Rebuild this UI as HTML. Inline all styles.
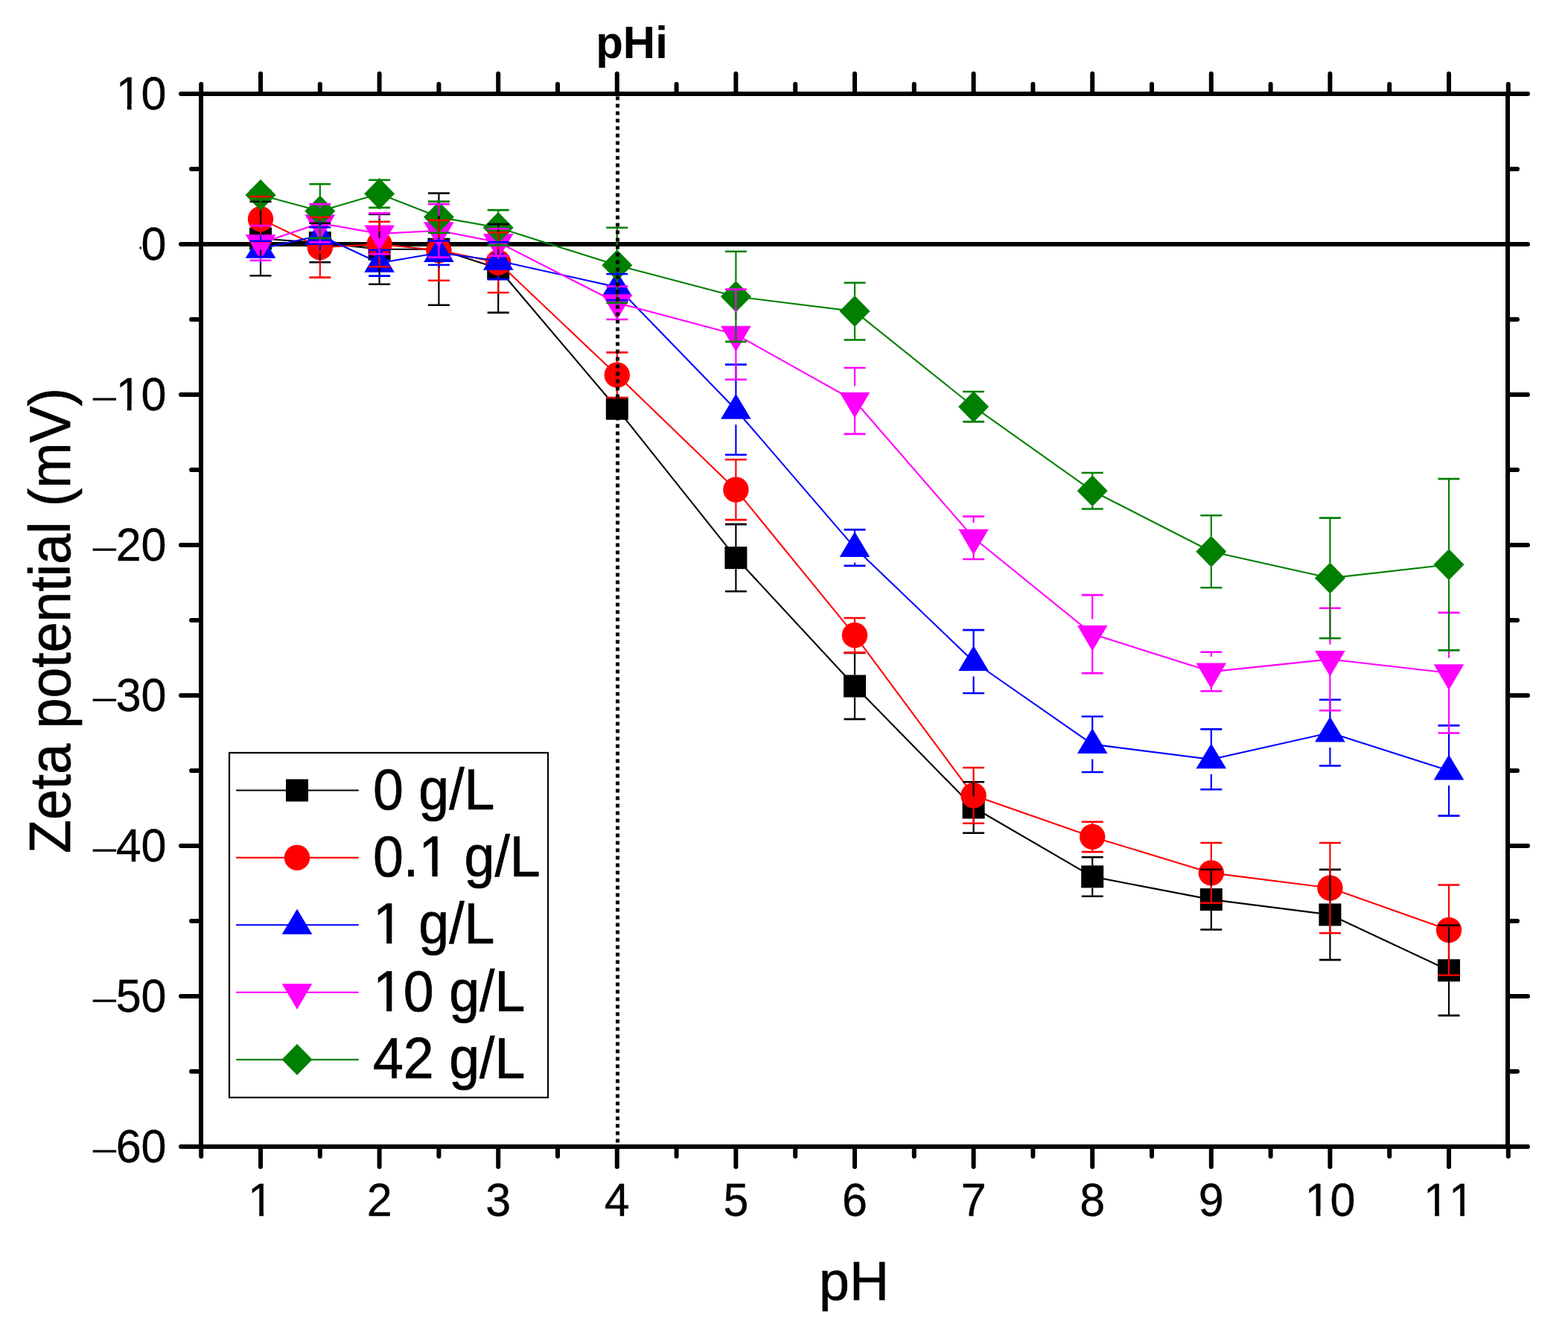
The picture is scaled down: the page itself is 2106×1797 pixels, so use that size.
<!DOCTYPE html>
<html><head><meta charset="utf-8"><title>Zeta potential vs pH</title>
<style>html,body{margin:0;padding:0;background:#fff;}svg{display:block;}</style>
</head><body>
<svg width="2106" height="1797" viewBox="0 0 2106 1797">
<rect width="2106" height="1797" fill="#ffffff"/>
<line x1="270" y1="328" x2="2025" y2="328" stroke="#000" stroke-width="6"/>
<polyline points="350,320.5 429.8,326 509.6,334.7 589.4,334.7 669.2,360.5 828.8,548.8 988.4,749.2 1148,921.5 1307.6,1084.5 1467.2,1177.4 1626.8,1208.1 1786.4,1228.5 1946,1303.3" fill="none" stroke="#000000" stroke-width="2.1" stroke-linejoin="round"/>
<rect x="335" y="305.5" width="30" height="30" fill="#000000"/>
<rect x="414.8" y="311" width="30" height="30" fill="#000000"/>
<rect x="494.6" y="319.7" width="30" height="30" fill="#000000"/>
<rect x="574.4" y="319.7" width="30" height="30" fill="#000000"/>
<rect x="654.2" y="345.5" width="30" height="30" fill="#000000"/>
<rect x="813.8" y="533.8" width="30" height="30" fill="#000000"/>
<rect x="973.4" y="734.2" width="30" height="30" fill="#000000"/>
<rect x="1133" y="906.5" width="30" height="30" fill="#000000"/>
<rect x="1292.6" y="1069.5" width="30" height="30" fill="#000000"/>
<rect x="1452.2" y="1162.4" width="30" height="30" fill="#000000"/>
<rect x="1611.8" y="1193.1" width="30" height="30" fill="#000000"/>
<rect x="1771.4" y="1213.5" width="30" height="30" fill="#000000"/>
<rect x="1931" y="1288.3" width="30" height="30" fill="#000000"/>
<polyline points="350,294.1 429.8,332.2 509.6,328 589.4,336.3 669.2,352.6 828.8,503.7 988.4,657.7 1148,853.2 1307.6,1068.3 1467.2,1123.9 1626.8,1172.4 1786.4,1192.6 1946,1249.1" fill="none" stroke="#ff0000" stroke-width="2.1" stroke-linejoin="round"/>
<circle cx="350" cy="294.1" r="17.2" fill="#ff0000"/>
<circle cx="429.8" cy="332.2" r="17.2" fill="#ff0000"/>
<circle cx="509.6" cy="328" r="17.2" fill="#ff0000"/>
<circle cx="589.4" cy="336.3" r="17.2" fill="#ff0000"/>
<circle cx="669.2" cy="352.6" r="17.2" fill="#ff0000"/>
<circle cx="828.8" cy="503.7" r="17.2" fill="#ff0000"/>
<circle cx="988.4" cy="657.7" r="17.2" fill="#ff0000"/>
<circle cx="1148" cy="853.2" r="17.2" fill="#ff0000"/>
<circle cx="1307.6" cy="1068.3" r="17.2" fill="#ff0000"/>
<circle cx="1467.2" cy="1123.9" r="17.2" fill="#ff0000"/>
<circle cx="1626.8" cy="1172.4" r="17.2" fill="#ff0000"/>
<circle cx="1786.4" cy="1192.6" r="17.2" fill="#ff0000"/>
<circle cx="1946" cy="1249.1" r="17.2" fill="#ff0000"/>
<polyline points="350,334.3 429.8,316.3 509.6,353.2 589.4,339.5 669.2,350.2 828.8,385.6 988.4,550.2 1148,735.6 1307.6,888.5 1467.2,999.6 1626.8,1019.9 1786.4,984.1 1946,1035" fill="none" stroke="#0000ff" stroke-width="2.1" stroke-linejoin="round"/>
<path d="M350 312.8L370.3 346.8L329.7 346.8Z" fill="#0000ff"/>
<path d="M429.8 294.8L450.1 328.8L409.5 328.8Z" fill="#0000ff"/>
<path d="M509.6 331.8L529.9 365.8L489.3 365.8Z" fill="#0000ff"/>
<path d="M589.4 318L609.7 352L569.1 352Z" fill="#0000ff"/>
<path d="M669.2 328.7L689.5 362.7L648.9 362.7Z" fill="#0000ff"/>
<path d="M828.8 364.1L849.1 398.1L808.5 398.1Z" fill="#0000ff"/>
<path d="M988.4 528.7L1008.7 562.7L968.1 562.7Z" fill="#0000ff"/>
<path d="M1148 714.1L1168.3 748.1L1127.7 748.1Z" fill="#0000ff"/>
<path d="M1307.6 867L1327.9 901L1287.3 901Z" fill="#0000ff"/>
<path d="M1467.2 978.1L1487.5 1012.1L1446.9 1012.1Z" fill="#0000ff"/>
<path d="M1626.8 998.4L1647.1 1032.3L1606.5 1032.3Z" fill="#0000ff"/>
<path d="M1786.4 962.6L1806.7 996.6L1766.1 996.6Z" fill="#0000ff"/>
<path d="M1946 1013.5L1966.3 1047.5L1925.7 1047.5Z" fill="#0000ff"/>
<polyline points="350,326.4 429.8,299.7 509.6,313.9 589.4,309.8 669.2,325.4 828.8,406.8 988.4,449.2 1148,538.5 1307.6,722.3 1467.2,851.6 1626.8,902.1 1786.4,885.5 1946,903.7" fill="none" stroke="#ff00ff" stroke-width="2.1" stroke-linejoin="round"/>
<path d="M350 349.4L370.3 314.9L329.7 314.9Z" fill="#ff00ff"/>
<path d="M429.8 322.7L450.1 288.2L409.5 288.2Z" fill="#ff00ff"/>
<path d="M509.6 336.9L529.9 302.4L489.3 302.4Z" fill="#ff00ff"/>
<path d="M589.4 332.8L609.7 298.3L569.1 298.3Z" fill="#ff00ff"/>
<path d="M669.2 348.4L689.5 313.9L648.9 313.9Z" fill="#ff00ff"/>
<path d="M828.8 429.8L849.1 395.3L808.5 395.3Z" fill="#ff00ff"/>
<path d="M988.4 472.2L1008.7 437.7L968.1 437.7Z" fill="#ff00ff"/>
<path d="M1148 561.5L1168.3 527L1127.7 527Z" fill="#ff00ff"/>
<path d="M1307.6 745.3L1327.9 710.8L1287.3 710.8Z" fill="#ff00ff"/>
<path d="M1467.2 874.6L1487.5 840.1L1446.9 840.1Z" fill="#ff00ff"/>
<path d="M1626.8 925.1L1647.1 890.6L1606.5 890.6Z" fill="#ff00ff"/>
<path d="M1786.4 908.5L1806.7 874L1766.1 874Z" fill="#ff00ff"/>
<path d="M1946 926.7L1966.3 892.2L1925.7 892.2Z" fill="#ff00ff"/>
<polyline points="350,261.9 429.8,283.6 509.6,260.3 589.4,291.6 669.2,305.8 828.8,356.3 988.4,398.3 1148,418.1 1307.6,546.2 1467.2,659.3 1626.8,740.7 1786.4,776.4 1946,758.3" fill="none" stroke="#008000" stroke-width="2.1" stroke-linejoin="round"/>
<path d="M350 240.9L370.5 261.9L350 282.9L329.5 261.9Z" fill="#008000"/>
<path d="M429.8 262.6L450.3 283.6L429.8 304.6L409.3 283.6Z" fill="#008000"/>
<path d="M509.6 239.3L530.1 260.3L509.6 281.3L489.1 260.3Z" fill="#008000"/>
<path d="M589.4 270.6L609.9 291.6L589.4 312.6L568.9 291.6Z" fill="#008000"/>
<path d="M669.2 284.8L689.7 305.8L669.2 326.8L648.7 305.8Z" fill="#008000"/>
<path d="M828.8 335.3L849.3 356.3L828.8 377.3L808.3 356.3Z" fill="#008000"/>
<path d="M988.4 377.3L1008.9 398.3L988.4 419.3L967.9 398.3Z" fill="#008000"/>
<path d="M1148 397.1L1168.5 418.1L1148 439.1L1127.5 418.1Z" fill="#008000"/>
<path d="M1307.6 525.2L1328.1 546.2L1307.6 567.2L1287.1 546.2Z" fill="#008000"/>
<path d="M1467.2 638.3L1487.7 659.3L1467.2 680.3L1446.7 659.3Z" fill="#008000"/>
<path d="M1626.8 719.7L1647.3 740.7L1626.8 761.7L1606.3 740.7Z" fill="#008000"/>
<path d="M1786.4 755.4L1806.9 776.4L1786.4 797.4L1765.9 776.4Z" fill="#008000"/>
<path d="M1946 737.3L1966.5 758.3L1946 779.3L1925.5 758.3Z" fill="#008000"/>
<path d="M350 305.5V270.8M350 335.5V370.2M429.8 311V299.7M429.8 341V352.2M509.6 319.7V287.6M509.6 349.7V381.7M589.4 319.7V259.5M589.4 349.7V409.8M669.2 345.5V301.1M669.2 375.5V419.9M988.4 734.2V704.1M988.4 764.2V794.2M1148 906.5V877M1148 936.5V965.9M1307.6 1069.5V1050.2M1307.6 1099.5V1118.8M1467.2 1162.4V1151.2M1467.2 1192.4V1203.7M1626.8 1193.1V1167.7M1626.8 1223.1V1248.5M1786.4 1213.5V1167.9M1786.4 1243.5V1289.1M1946 1288.3V1242.7M1946 1318.3V1363.9" stroke="#000000" stroke-width="2.2" fill="none"/>
<path d="M335.5 270.8H364.5M335.5 370.2H364.5M415.3 299.7H444.3M415.3 352.2H444.3M495.1 287.6H524.1M495.1 381.7H524.1M574.9 259.5H603.9M574.9 409.8H603.9M654.7 301.1H683.7M654.7 419.9H683.7M973.9 704.1H1002.9M973.9 794.2H1002.9M1133.5 877H1162.5M1133.5 965.9H1162.5M1293.1 1050.2H1322.1M1293.1 1118.8H1322.1M1452.7 1151.2H1481.7M1452.7 1203.7H1481.7M1612.3 1167.7H1641.3M1612.3 1248.5H1641.3M1771.9 1167.9H1800.9M1771.9 1289.1H1800.9M1931.5 1242.7H1960.5M1931.5 1363.9H1960.5" stroke="#000000" stroke-width="2.6" fill="none"/>
<path d="M350 277.1V264M350 311.1V324.2M429.8 315.2V291.8M429.8 349.2V372.6M509.6 311V297.7M509.6 345V358.3M589.4 319.3V295.9M589.4 353.3V376.7M669.2 335.6V312.2M669.2 369.6V393M828.8 486.7V473.4M828.8 520.7V534M988.4 640.7V617.3M988.4 674.7V698.1M1148 836.2V830M1148 870.2V876.4M1307.6 1051.3V1031M1307.6 1085.3V1105.7M1467.2 1106.9V1103.7M1467.2 1140.9V1144.1M1626.8 1155.4V1132M1626.8 1189.4V1212.8M1786.4 1175.6V1132M1786.4 1209.6V1253.2M1946 1232.1V1188.5M1946 1266.1V1309.7" stroke="#ff0000" stroke-width="2.2" fill="none"/>
<path d="M335.5 264H364.5M335.5 324.2H364.5M415.3 291.8H444.3M415.3 372.6H444.3M495.1 297.7H524.1M495.1 358.3H524.1M574.9 295.9H603.9M574.9 376.7H603.9M654.7 312.2H683.7M654.7 393H683.7M814.3 473.4H843.3M814.3 534H843.3M973.9 617.3H1002.9M973.9 698.1H1002.9M1133.5 830H1162.5M1133.5 876.4H1162.5M1293.1 1031H1322.1M1293.1 1105.7H1322.1M1452.7 1103.7H1481.7M1452.7 1144.1H1481.7M1612.3 1132H1641.3M1612.3 1212.8H1641.3M1771.9 1132H1800.9M1771.9 1253.2H1800.9M1931.5 1188.5H1960.5M1931.5 1309.7H1960.5" stroke="#ff0000" stroke-width="2.6" fill="none"/>
<path d="M350 314.3V323.8M350 354.3V344.8M429.8 296.3V305.2M429.8 336.3V327.4M509.6 333.2V335.9M509.6 373.2V370.6M589.4 319.5V323.4M589.4 359.5V355.7M669.2 330.2V325.4M669.2 370.2V375.1M828.8 365.6V368M828.8 405.6V403.1M988.4 530.2V489.6M988.4 570.2V610.8M1148 715.6V711.4M1148 755.6V759.9M1307.6 868.5V846.1M1307.6 908.5V931M1467.2 979.6V962.3M1467.2 1019.6V1037M1626.8 999.9V979.4M1626.8 1039.8V1060.2M1786.4 964.1V939.7M1786.4 1004.1V1028.5M1946 1015V974.4M1946 1055V1095.6" stroke="#0000ff" stroke-width="2.2" fill="none"/>
<path d="M335.5 323.8H364.5M335.5 344.8H364.5M415.3 305.2H444.3M415.3 327.4H444.3M495.1 335.9H524.1M495.1 370.6H524.1M574.9 323.4H603.9M574.9 355.7H603.9M654.7 325.4H683.7M654.7 375.1H683.7M814.3 368H843.3M814.3 403.1H843.3M973.9 489.6H1002.9M973.9 610.8H1002.9M1133.5 711.4H1162.5M1133.5 759.9H1162.5M1293.1 846.1H1322.1M1293.1 931H1322.1M1452.7 962.3H1481.7M1452.7 1037H1481.7M1612.3 979.4H1641.3M1612.3 1060.2H1641.3M1771.9 939.7H1800.9M1771.9 1028.5H1800.9M1931.5 974.4H1960.5M1931.5 1095.6H1960.5" stroke="#0000ff" stroke-width="2.6" fill="none"/>
<path d="M350 306.4V303M350 346.4V349.8M429.8 279.7V274.1M429.8 319.7V325.4M509.6 293.9V286.4M509.6 333.9V341.3M589.4 289.8V274.1M589.4 329.8V345.6M669.2 305.4V307.2M669.2 345.4V343.6M828.8 386.8V384.6M828.8 426.8V429M988.4 429.2V388.6M988.4 469.2V509.8M1148 518.5V494M1148 558.5V582.9M1307.6 702.3V693.6M1307.6 742.3V751M1467.2 831.6V799.1M1467.2 871.6V904.1M1626.8 882.1V875.8M1626.8 922.1V928.3M1786.4 865.5V816.8M1786.4 905.5V954.2M1946 883.7V822.9M1946 923.7V984.5" stroke="#ff00ff" stroke-width="2.2" fill="none"/>
<path d="M335.5 303H364.5M335.5 349.8H364.5M415.3 274.1H444.3M415.3 325.4H444.3M495.1 286.4H524.1M495.1 341.3H524.1M574.9 274.1H603.9M574.9 345.6H603.9M654.7 307.2H683.7M654.7 343.6H683.7M814.3 384.6H843.3M814.3 429H843.3M973.9 388.6H1002.9M973.9 509.8H1002.9M1133.5 494H1162.5M1133.5 582.9H1162.5M1293.1 693.6H1322.1M1293.1 751H1322.1M1452.7 799.1H1481.7M1452.7 904.1H1481.7M1612.3 875.8H1641.3M1612.3 928.3H1641.3M1771.9 816.8H1800.9M1771.9 954.2H1800.9M1931.5 822.9H1960.5M1931.5 984.5H1960.5" stroke="#ff00ff" stroke-width="2.6" fill="none"/>
<path d="M350 241.4V255.9M350 282.4V268M429.8 263.1V247.2M429.8 304.1V319.9M509.6 239.8V241.7M509.6 280.8V278.9M589.4 271.1V270.6M589.4 312.1V312.6M669.2 285.3V282.1M669.2 326.3V329.4M828.8 335.8V305.8M828.8 376.8V406.8M988.4 377.8V337.7M988.4 418.8V458.9M1148 397.6V379.7M1148 438.6V456.5M1307.6 525.7V526M1307.6 566.7V566.4M1467.2 638.8V635M1467.2 679.8V683.5M1626.8 720.2V692.2M1626.8 761.2V789.2M1786.4 755.9V695.6M1786.4 796.9V857.2M1946 737.8V643.1M1946 778.8V873.4" stroke="#008000" stroke-width="2.2" fill="none"/>
<path d="M335.5 255.9H364.5M335.5 268H364.5M415.3 247.2H444.3M415.3 319.9H444.3M495.1 241.7H524.1M495.1 278.9H524.1M574.9 270.6H603.9M574.9 312.6H603.9M654.7 282.1H683.7M654.7 329.4H683.7M814.3 305.8H843.3M814.3 406.8H843.3M973.9 337.7H1002.9M973.9 458.9H1002.9M1133.5 379.7H1162.5M1133.5 456.5H1162.5M1293.1 526H1322.1M1293.1 566.4H1322.1M1452.7 635H1481.7M1452.7 683.5H1481.7M1612.3 692.2H1641.3M1612.3 789.2H1641.3M1771.9 695.6H1800.9M1771.9 857.2H1800.9M1931.5 643.1H1960.5M1931.5 873.4H1960.5" stroke="#008000" stroke-width="2.6" fill="none"/>
<line x1="829.5" y1="129.4" x2="829.5" y2="1537" stroke="#000" stroke-width="5" stroke-dasharray="5 5"/>
<rect x="270" y="126" width="1755" height="1414" fill="none" stroke="#000" stroke-width="6"/>
<path d="M270.2 126V113M270.2 1540V1553M350 126V99M350 1540V1567M429.8 126V113M429.8 1540V1553M509.6 126V99M509.6 1540V1567M589.4 126V113M589.4 1540V1553M669.2 126V99M669.2 1540V1567M749 126V113M749 1540V1553M828.8 126V99M828.8 1540V1567M908.6 126V113M908.6 1540V1553M988.4 126V99M988.4 1540V1567M1068.2 126V113M1068.2 1540V1553M1148 126V99M1148 1540V1567M1227.8 126V113M1227.8 1540V1553M1307.6 126V99M1307.6 1540V1567M1387.4 126V113M1387.4 1540V1553M1467.2 126V99M1467.2 1540V1567M1547 126V113M1547 1540V1553M1626.8 126V99M1626.8 1540V1567M1706.6 126V113M1706.6 1540V1553M1786.4 126V99M1786.4 1540V1567M1866.2 126V113M1866.2 1540V1553M1946 126V99M1946 1540V1567M2025.8 126V113M2025.8 1540V1553M270 126H243M2025 126H2052M270 227H257M2025 227H2038M270 328H243M2025 328H2052M270 429H257M2025 429H2038M270 530H243M2025 530H2052M270 631H257M2025 631H2038M270 732H243M2025 732H2052M270 833H257M2025 833H2038M270 934H243M2025 934H2052M270 1035H257M2025 1035H2038M270 1136H243M2025 1136H2052M270 1237H257M2025 1237H2038M270 1338H243M2025 1338H2052M270 1439H257M2025 1439H2038M270 1540H243M2025 1540H2052" stroke="#000" stroke-width="6" stroke-linecap="round" fill="none"/>
<g style="font-family:'Liberation Sans',Arial,sans-serif;font-kerning:none;font-size:61px;stroke:#000;stroke-width:0.35px" fill="#000">
<text transform="translate(223.5 146.7) scale(1 1.04)" text-anchor="end">10</text>
<text transform="translate(223.5 348.7) scale(1 1.04)" text-anchor="end">0</text>
<text transform="translate(121.85 549.5) scale(1.047 0.69)">−</text>
<text transform="translate(223.5 550.7) scale(1 1.04)" text-anchor="end">10</text>
<text transform="translate(121.85 751.5) scale(1.047 0.69)">−</text>
<text transform="translate(223.5 752.7) scale(1 1.04)" text-anchor="end">20</text>
<text transform="translate(121.85 953.5) scale(1.047 0.69)">−</text>
<text transform="translate(223.5 954.7) scale(1 1.04)" text-anchor="end">30</text>
<text transform="translate(121.85 1155.5) scale(1.047 0.69)">−</text>
<text transform="translate(223.5 1156.7) scale(1 1.04)" text-anchor="end">40</text>
<text transform="translate(121.85 1357.5) scale(1.047 0.69)">−</text>
<text transform="translate(223.5 1358.7) scale(1 1.04)" text-anchor="end">50</text>
<text transform="translate(121.85 1559.5) scale(1.047 0.69)">−</text>
<text transform="translate(223.5 1560.7) scale(1 1.04)" text-anchor="end">60</text>
<text transform="translate(350 1633) scale(1 1.04)" text-anchor="middle">1</text>
<text transform="translate(509.6 1633) scale(1 1.04)" text-anchor="middle">2</text>
<text transform="translate(669.2 1633) scale(1 1.04)" text-anchor="middle">3</text>
<text transform="translate(828.8 1633) scale(1 1.04)" text-anchor="middle">4</text>
<text transform="translate(988.4 1633) scale(1 1.04)" text-anchor="middle">5</text>
<text transform="translate(1148 1633) scale(1 1.04)" text-anchor="middle">6</text>
<text transform="translate(1307.6 1633) scale(1 1.04)" text-anchor="middle">7</text>
<text transform="translate(1467.2 1633) scale(1 1.04)" text-anchor="middle">8</text>
<text transform="translate(1626.8 1633) scale(1 1.04)" text-anchor="middle">9</text>
<text transform="translate(1786.4 1633) scale(1 1.04)" text-anchor="middle">10</text>
<text transform="translate(1946 1633) scale(1 1.04)" text-anchor="middle">11</text>
</g>
<rect x="187.5" y="331.5" width="2.5" height="3" fill="#000"/>
<text transform="translate(1147 1745.7) scale(1 1.012)" text-anchor="middle" style="font-family:'Liberation Sans',Arial,sans-serif;font-kerning:none;font-size:73.5px;stroke:#000;stroke-width:0.7px">pH</text>
<text transform="translate(94 833.5) rotate(-90) scale(1 1.05)" text-anchor="middle" style="font-family:'Liberation Sans',Arial,sans-serif;font-kerning:none;font-size:73.5px;stroke:#000;stroke-width:0.7px">Zeta potential (mV)</text>
<text transform="translate(848.5 78) scale(1 1.03)" text-anchor="middle" style="font-family:'Liberation Sans',Arial,sans-serif;font-kerning:none;font-size:60px;font-weight:bold">pHi</text>
<rect x="308" y="1011" width="428" height="463" fill="#fff" stroke="#000" stroke-width="2.2"/>
<line x1="318" y1="1061.5" x2="481" y2="1061.5" stroke="#000000" stroke-width="2.1" stroke-linecap="round"/>
<rect x="384" y="1046.5" width="30" height="30" fill="#000000"/>
<text transform="translate(501 1086.5) scale(1 1.05)" style="font-family:'Liberation Sans',Arial,sans-serif;font-kerning:none;font-size:73.5px;stroke:#000;stroke-width:0.7px">0 g/L</text>
<line x1="318" y1="1151.9" x2="481" y2="1151.9" stroke="#ff0000" stroke-width="2.1" stroke-linecap="round"/>
<circle cx="399" cy="1151.9" r="17.2" fill="#ff0000"/>
<text transform="translate(501 1176.9) scale(1 1.05)" style="font-family:'Liberation Sans',Arial,sans-serif;font-kerning:none;font-size:73.5px;stroke:#000;stroke-width:0.7px">0.1 g/L</text>
<line x1="318" y1="1242.3" x2="481" y2="1242.3" stroke="#0000ff" stroke-width="2.1" stroke-linecap="round"/>
<path d="M399 1220.8L419.3 1254.8L378.7 1254.8Z" fill="#0000ff"/>
<text transform="translate(501 1267.3) scale(1 1.05)" style="font-family:'Liberation Sans',Arial,sans-serif;font-kerning:none;font-size:73.5px;stroke:#000;stroke-width:0.7px">1 g/L</text>
<line x1="318" y1="1332.7" x2="481" y2="1332.7" stroke="#ff00ff" stroke-width="2.1" stroke-linecap="round"/>
<path d="M399 1355.7L419.3 1321.2L378.7 1321.2Z" fill="#ff00ff"/>
<text transform="translate(501 1357.7) scale(1 1.05)" style="font-family:'Liberation Sans',Arial,sans-serif;font-kerning:none;font-size:73.5px;stroke:#000;stroke-width:0.7px">10 g/L</text>
<line x1="318" y1="1423.1" x2="481" y2="1423.1" stroke="#008000" stroke-width="2.1" stroke-linecap="round"/>
<path d="M399 1402.1L419.5 1423.1L399 1444.1L378.5 1423.1Z" fill="#008000"/>
<text transform="translate(501 1448.1) scale(1 1.05)" style="font-family:'Liberation Sans',Arial,sans-serif;font-kerning:none;font-size:73.5px;stroke:#000;stroke-width:0.7px">42 g/L</text>
<rect x="159.10" y="140.00" width="11.69" height="9.00" fill="#fff"/>
<rect x="176.58" y="140.00" width="11.22" height="9.00" fill="#fff"/>
<rect x="159.10" y="544.00" width="11.69" height="9.00" fill="#fff"/>
<rect x="176.58" y="544.00" width="11.22" height="9.00" fill="#fff"/>
<rect x="336.48" y="1626.00" width="11.69" height="9.00" fill="#fff"/>
<rect x="353.97" y="1626.00" width="11.22" height="9.00" fill="#fff"/>
<rect x="1755.92" y="1626.00" width="11.69" height="9.00" fill="#fff"/>
<rect x="1773.41" y="1626.00" width="11.22" height="9.00" fill="#fff"/>
<rect x="1915.52" y="1626.00" width="11.69" height="9.00" fill="#fff"/>
<rect x="1933.01" y="1626.00" width="11.22" height="9.00" fill="#fff"/>
<rect x="1949.45" y="1626.00" width="11.69" height="9.00" fill="#fff"/>
<rect x="1966.93" y="1626.00" width="11.22" height="9.00" fill="#fff"/>
<rect x="566.55" y="1169.00" width="13.88" height="10.00" fill="#fff"/>
<rect x="587.63" y="1169.00" width="13.31" height="10.00" fill="#fff"/>
<rect x="505.25" y="1259.00" width="13.88" height="10.00" fill="#fff"/>
<rect x="526.33" y="1259.00" width="13.31" height="10.00" fill="#fff"/>
<rect x="505.25" y="1350.00" width="13.88" height="10.00" fill="#fff"/>
<rect x="526.33" y="1350.00" width="13.31" height="10.00" fill="#fff"/>
</svg>
</body></html>
